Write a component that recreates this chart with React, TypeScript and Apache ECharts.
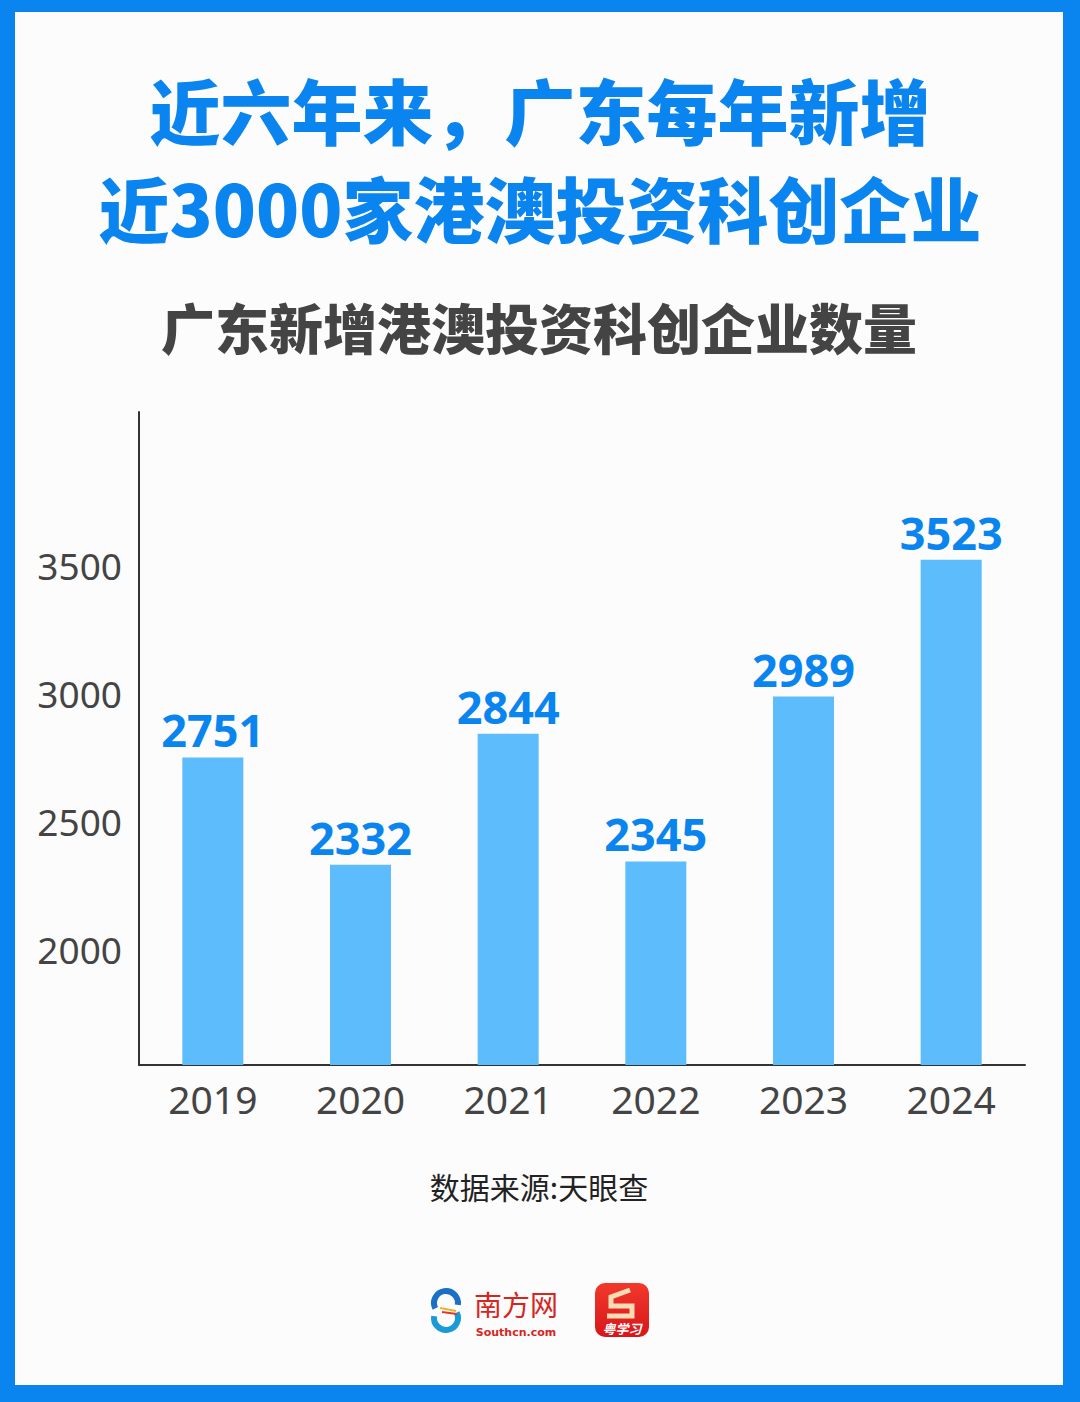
import React, { useEffect, useRef } from "react";
import * as echarts from "echarts";

const years = ["2019", "2020", "2021", "2022", "2023", "2024"];
const counts = [2751, 2332, 2844, 2345, 2989, 3523];
const yTickLabels = [2000, 2500, 3000, 3500];
const titleLines = ["近六年来，广东每年新增", "近3000家港澳投资科创企业"];
const subtitle = "广东新增港澳投资科创企业数量";
const source = "数据来源:天眼查";
const logoName = "南方网";
const logoDomain = "Southcn.com";
const appName = "粤学习";

const BLUE = "#0a84ef";
const CJK = '"Noto Sans CJK SC", sans-serif';

export default function App() {
  const ref = useRef<HTMLDivElement>(null);
  useEffect(() => {
    if (!ref.current) return;
    const chart = echarts.init(ref.current, null, { renderer: "svg" });
    const option: any = {
      animation: false,
      backgroundColor: BLUE,
      grid: { left: 139, right: 55, top: 412, bottom: 337, containLabel: false },
      xAxis: {
        type: "category",
        data: years,
        axisLine: { show: true, lineStyle: { color: "#333", width: 2 } },
        axisTick: { show: false },
        axisLabel: {
          margin: 14,
          fontSize: 39,
          color: "#444",
          fontFamily: '"Noto Sans", sans-serif',
        },
      },
      yAxis: {
        type: "value",
        min: 1550,
        max: 4100,
        interval: 50,
        axisLine: { show: true, lineStyle: { color: "#333", width: 2 } },
        axisTick: { show: false },
        splitLine: { show: false },
        axisLabel: {
          margin: 17,
          fontSize: 37,
          color: "#444",
          fontFamily: '"Noto Sans", sans-serif',
          formatter: (v: number) => (yTickLabels.includes(Math.round(v)) ? String(Math.round(v)) : ""),
        },
      },
      series: [
        {
          type: "bar",
          data: counts,
          barWidth: 61,
          itemStyle: { color: "#5dbcfb" },
          label: {
            show: true,
            position: "top",
            distance: 5,
            fontSize: 45,
            fontWeight: "bold",
            color: BLUE,
            fontFamily: '"Noto Sans", sans-serif',
          },
        },
      ],
      graphic: [
        {
          type: "rect",
          z: -10,
          silent: true,
          shape: { x: 15, y: 12, width: 1048, height: 1373 },
          style: { fill: "#fcfcfc" },
        },
        {
          type: "text",
          style: {
            text: titleLines[0],
            x: 540,
            y: 108,
            align: "center",
            verticalAlign: "middle",
            fontSize: 71,
            fontWeight: 900,
            fontFamily: CJK,
            fill: BLUE,
          },
        },
        {
          type: "text",
          style: {
            text: titleLines[1],
            x: 540,
            y: 206,
            align: "center",
            verticalAlign: "middle",
            fontSize: 71,
            fontWeight: 900,
            fontFamily: CJK,
            fill: BLUE,
          },
        },
        {
          type: "text",
          style: {
            text: subtitle,
            x: 539,
            y: 326,
            align: "center",
            verticalAlign: "middle",
            fontSize: 54,
            fontWeight: 900,
            fontFamily: CJK,
            fill: "#444",
          },
        },
        {
          type: "text",
          style: {
            text: source,
            x: 539,
            y: 1186,
            align: "center",
            verticalAlign: "middle",
            fontSize: 30,
            fontWeight: "normal",
            fontFamily: CJK,
            fill: "#222",
          },
        },
        // 南方网 swirl
        {
          type: "arc",
          shape: { cx: 446, cy: 1303, r: 12, startAngle: Math.PI * 0.85, endAngle: Math.PI * 2.05 },
          style: { stroke: "#1b6fc4", lineWidth: 6, fill: "none" },
        },
        {
          type: "arc",
          shape: { cx: 446, cy: 1318, r: 12, startAngle: -Math.PI * 0.15, endAngle: Math.PI * 1.05 },
          style: { stroke: "#1a9bd8", lineWidth: 6, fill: "none" },
        },
        {
          type: "line",
          shape: { x1: 440, y1: 1308, x2: 456, y2: 1311 },
          style: { stroke: "#f2b120", lineWidth: 2 },
        },
        {
          type: "line",
          shape: { x1: 442, y1: 1312, x2: 457, y2: 1314 },
          style: { stroke: "#e23a2a", lineWidth: 2 },
        },
        {
          type: "text",
          style: {
            text: logoName,
            x: 516,
            y: 1304,
            align: "center",
            verticalAlign: "middle",
            fontSize: 28,
            fontFamily: CJK,
            fontWeight: "normal",
            fill: "#d7261e",
          },
        },
        {
          type: "text",
          style: {
            text: logoDomain,
            x: 516,
            y: 1332,
            align: "center",
            verticalAlign: "middle",
            fontSize: 11,
            fontFamily: '"DejaVu Sans", sans-serif',
            fontWeight: "bold",
            fill: "#d7261e",
          },
        },
        // 粤学习 app icon
        {
          type: "rect",
          shape: { x: 595, y: 1283, width: 54, height: 54, r: 10 },
          style: {
            fill: new echarts.graphic.LinearGradient(0, 0, 0, 1, [
              { offset: 0, color: "#f2382c" },
              { offset: 1, color: "#d8161a" },
            ]),
          },
        },
        {
          type: "polyline",
          shape: {
            points: [
              [630, 1290],
              [611, 1297],
              [611, 1306],
              [632, 1306],
              [632, 1316],
              [607, 1316],
            ],
          },
          style: { stroke: "#f7dcb4", lineWidth: 5, fill: "none" },
        },
        {
          type: "text",
          style: {
            text: appName,
            x: 622,
            y: 1328,
            align: "center",
            verticalAlign: "middle",
            fontSize: 13,
            fontStyle: "italic",
            fontWeight: "bold",
            fontFamily: CJK,
            fill: "#ffffff",
          },
        },
      ],
    };
    chart.setOption(option);
    return () => chart.dispose();
  }, []);
  return (
    <div
      ref={ref}
      style={{ position: "fixed", left: 0, top: 0, width: 1080, height: 1402 }}
    />
  );
}
